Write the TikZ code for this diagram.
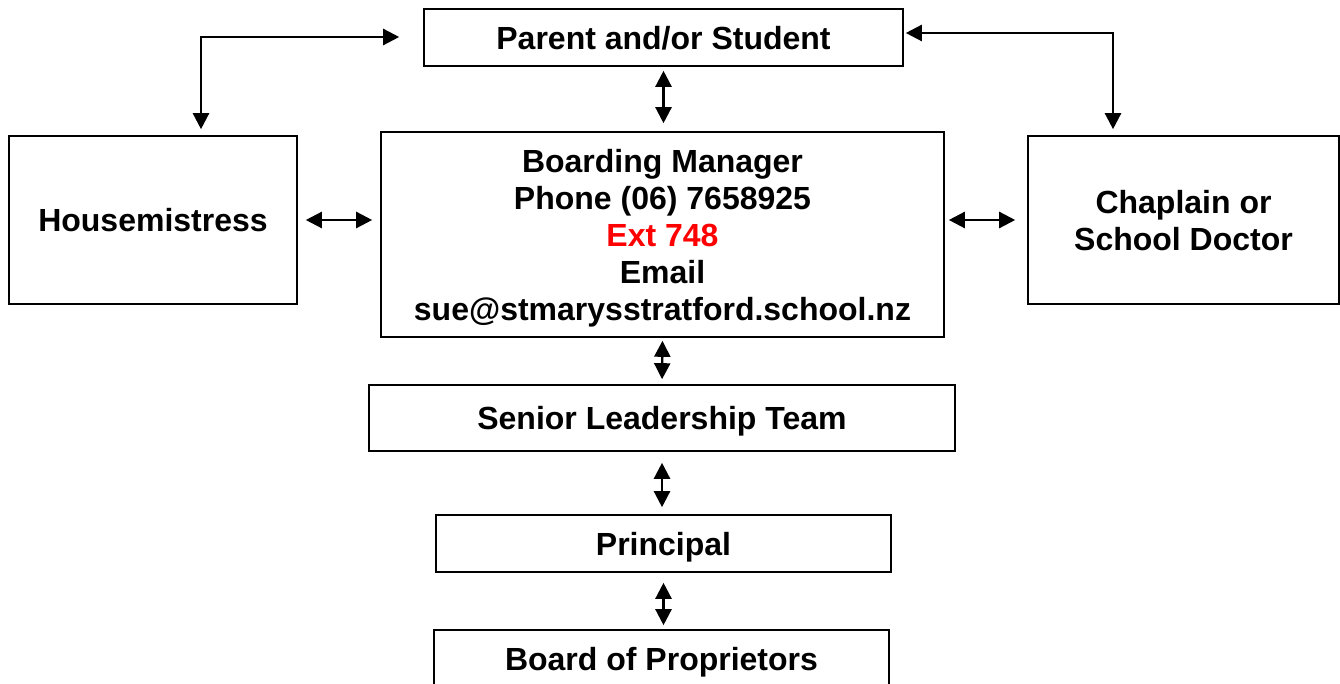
\documentclass[tikz,border=0pt]{standalone}
\usepackage{fontspec}
\setmainfont{Liberation Sans}
\usetikzlibrary{arrows.meta}
\tikzset{>={Triangle[length=16pt, width=16pt]}}
\tikzset{box/.style={draw, line width=1.6pt, inner sep=0pt, align=center, text depth=0pt,
  font=\bfseries\fontsize{32}{37}\selectfont}}
\tikzset{link/.style={<->, line width=2.4pt}}

\begin{document}
\begin{tikzpicture}[x=1pt, y=-1pt]
    \useasboundingbox(0, 0)rectangle(1340, 684);
    \node[box, minimum width=479, minimum height=57](parent)at(663.5, 37.5){Parent and/or Student};
    \node[box, minimum width=288, minimum height=168](house)at(153, 220){Housemistress};
    \node[box, minimum width=563, minimum height=205](manager)at(662.5, 234.5){Boarding Manager\\Phone (06) 7658925\\\textcolor{red}{Ext 748}\\Email\\sue@stmarysstratford.school.nz};
    \node[box, minimum width=311, minimum height=168](chaplain)at(1183.5, 220){Chaplain or\\School Doctor};
    \node[box, minimum width=586, minimum height=66](slt)at(662, 418){Senior Leadership Team};
    \node[box, minimum width=455, minimum height=57](principal)at(663.5, 543.5){Principal};
    \node[box, minimum width=455, minimum height=57](board)at(661.5, 658.5){Board of Proprietors};
    \coordinate(lc)at(201, 37);
    \coordinate(rc)at(1113, 33);
    \draw[link, shorten <=24pt, shorten >=6pt](parent.west |- lc)--(lc)--(lc |- house.north);
    \draw[link, shorten <=2pt, shorten >=6pt](parent.east |- rc)--(rc)--(rc |- chaplain.north);
    \draw[link, shorten <=4pt, shorten >=8pt](parent.south)--(parent.south |- manager.north);
    \draw[link, shorten <=8pt, shorten >=8pt](house.east)--(house.east -| manager.west);
    \draw[link, shorten <=4pt, shorten >=12pt](chaplain.west -| manager.east)--(chaplain.west);
    \draw[link, shorten <=3pt, shorten >=5pt](manager.south)--(slt.north);
    \draw[link, shorten <=11pt, shorten >=7pt](slt.south)--(slt.south |- principal.north);
    \draw[link, shorten <=10pt, shorten >=4pt](principal.south)--(principal.south |- board.north);
\end{tikzpicture}
\end{document}
